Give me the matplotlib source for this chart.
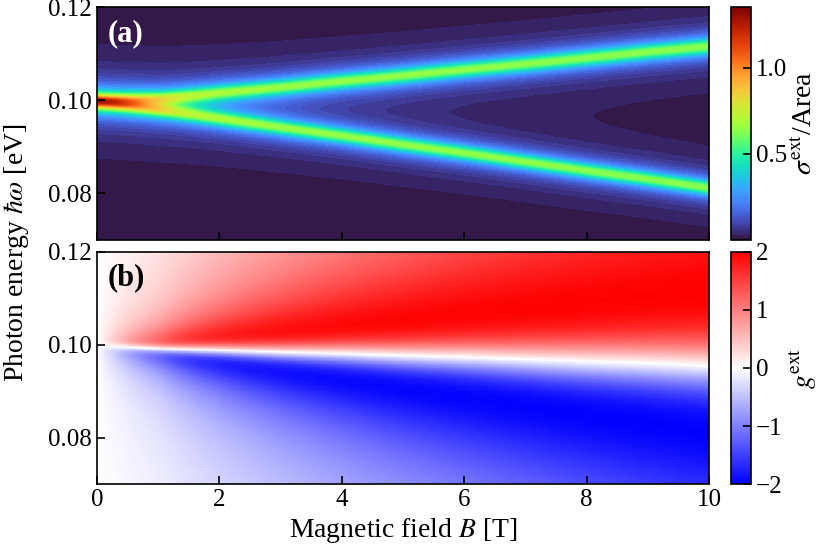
import numpy as np
import matplotlib
matplotlib.use("Agg")
import matplotlib.pyplot as plt
from matplotlib import cm, colors

plt.rcParams['font.family'] = ['Liberation Serif', 'DejaVu Serif']
plt.rcParams['mathtext.fontset'] = 'stix'

# resonance energies (eV) at each field value (T)
field_read = [0, 1, 2, 3, 4, 5, 6, 7, 8, 9, 10]
upper_branch = [0.0998, 0.1003, 0.1016, 0.1028, 0.1041, 0.1053,
                0.1066, 0.1078, 0.1091, 0.1104, 0.1116]
lower_branch = [0.0998, 0.0980, 0.0961, 0.0942, 0.0924, 0.0905,
                0.0887, 0.0868, 0.0849, 0.0831, 0.0812]

# line shape
peak_height = 0.64       # per branch
half_width = 0.0016      # eV, at B = 0
width_tilt = 0.006       # relative width change per tesla (upper wider)

B = np.linspace(0, 10, 401)
E = np.linspace(0.07, 0.12, 401)
BB, EE = np.meshgrid(B, E)

Eu = np.interp(BB, field_read, upper_branch)
El = np.interp(BB, field_read, lower_branch)
gu = half_width * (1 + width_tilt * BB)
gl = half_width * (1 - width_tilt * BB)
sig_u = peak_height / (1 + ((EE - Eu) / gu) ** 2)
sig_l = peak_height / (1 + ((EE - El) / gl) ** 2)
sigma = sig_u + sig_l
g = 2 * (sig_u - sig_l) / (sig_u + sig_l)

fig = plt.figure(figsize=(8.25, 5.55), dpi=100)
ax1 = fig.add_axes([0.1176, 0.5676, 0.7418, 0.4194])
ax2 = fig.add_axes([0.1176, 0.1279, 0.7418, 0.4181])
cax1 = fig.add_axes([0.886, 0.5676, 0.024, 0.4194])
cax2 = fig.add_axes([0.886, 0.1279, 0.024, 0.4181])

norm1 = colors.Normalize(0, 1.35)
ax1.contourf(BB, EE, sigma, levels=np.linspace(0, 1.35, 64), cmap='turbo',
             norm=norm1, extend='max')
norm2 = colors.Normalize(-2, 2)
ax2.pcolormesh(BB, EE, g, cmap='bwr', norm=norm2, shading='auto',
               rasterized=True)

for ax in (ax1, ax2):
    ax.set_xlim(0, 10)
    ax.set_ylim(0.07, 0.12)
    ax.set_yticks([0.08, 0.10, 0.12])
    ax.set_xticks([0, 2, 4, 6, 8, 10])
    ax.tick_params(direction='in', length=6, width=1.2, labelsize=18)
    ax.yaxis.set_major_formatter(plt.FormatStrFormatter('%.2f'))
    for s in ax.spines.values():
        s.set_linewidth(1.2)
ax1.tick_params(labelbottom=False)

ax1.text(0.017, 0.95, '(a)', transform=ax1.transAxes, color='white',
         fontsize=22, fontweight='bold', va='top')
ax2.text(0.017, 0.95, '(b)', transform=ax2.transAxes, color='black',
         fontsize=22, fontweight='bold', va='top')

ax2.set_xlabel(r'Magnetic field $B$ [T]', fontsize=20)
fig.text(0.02, 0.545, r'Photon energy $\hbar\omega$ [eV]', fontsize=20,
         rotation=90, va='center', ha='center')

cb1 = fig.colorbar(cm.ScalarMappable(norm=norm1, cmap='turbo'), cax=cax1)
cb1.set_ticks([0.5, 1.0])
cb1.set_label(r'$\sigma^{\rm ext}$/Area', fontsize=20)
cb2 = fig.colorbar(cm.ScalarMappable(norm=norm2, cmap='bwr'), cax=cax2)
cb2.set_ticks([-2, -1, 0, 1, 2])
cb2.set_label(r'$g^{\rm ext}$', fontsize=20)
for cb in (cb1, cb2):
    cb.ax.tick_params(direction='in', length=6, width=1.2, labelsize=18)
    cb.outline.set_linewidth(1.2)

fig.savefig('out.png', dpi=100)
